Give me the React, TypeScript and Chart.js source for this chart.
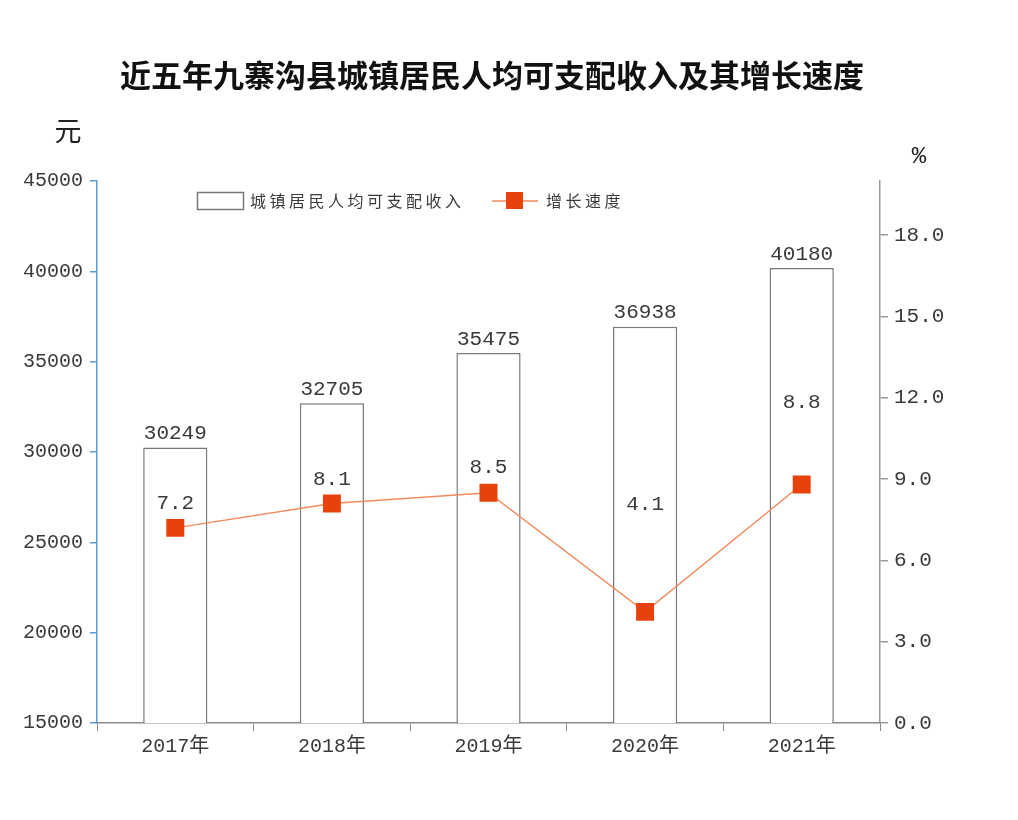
import React, { useEffect, useRef } from "react";
import { Chart, registerables } from "chart.js";

Chart.register(...registerables);

const categories = ["2017年", "2018年", "2019年", "2020年", "2021年"];
const incomeValues = [30249, 32705, 35475, 36938, 40180];
const growthValues = [7.2, 8.1, 8.5, 4.1, 8.8];
const growthLabels = ["7.2", "8.1", "8.5", "4.1", "8.8"];
const titleText = "近五年九寨沟县城镇居民人均可支配收入及其增长速度";
const leftUnit = "元";
const rightUnit = "%";
const barLegend = "城镇居民人均可支配收入";
const lineLegend = "增长速度";

const NUM_FONT = "'Liberation Mono', 'DejaVu Sans Mono', monospace";
const CJK_FONT = "'Noto Sans CJK SC', 'Noto Sans', sans-serif";
const MIX_FONT = "'Liberation Mono', 'Noto Sans CJK SC', monospace";
const BAR_BORDER = "#787878";
const LINE_COLOR = "#f38b5c";
const MARK_COLOR = "#e8420c";
const TEXT_COLOR = "#3a3a3a";

const textPlugin = {
  id: "textPlugin",
  afterDatasetsDraw(chart: any, _args: any, opts: any) {
    const ctx = chart.ctx;
    ctx.save();
    const barMeta = chart.getDatasetMeta(0);
    ctx.font = `21px ${NUM_FONT}`;
    ctx.fillStyle = TEXT_COLOR;
    ctx.textAlign = "center";
    ctx.textBaseline = "middle";
    barMeta.data.forEach((el: any, i: number) => {
      ctx.fillText(String(incomeValues[i]), el.x, el.y - 14);
    });
    const lineMeta = chart.getDatasetMeta(1);
    const lifts: number[] = opts.lifts || [];
    lineMeta.data.forEach((el: any, i: number) => {
      ctx.fillText(growthLabels[i], el.x, el.y - (lifts[i] ?? 25));
    });
    ctx.restore();
  },
  afterDraw(chart: any) {
    const ctx = chart.ctx;
    ctx.save();
    ctx.textBaseline = "middle";
    ctx.textAlign = "center";
    ctx.fillStyle = "#111";
    ctx.font = `bold 31px ${CJK_FONT}`;
    ctx.fillText(titleText, 492, 75);
    ctx.font = `27px ${CJK_FONT}`;
    ctx.fillStyle = "#222";
    ctx.fillText(leftUnit, 68, 131);
    ctx.font = `24px ${NUM_FONT}`;
    ctx.fillText(rightUnit, 919, 157);
    ctx.strokeStyle = BAR_BORDER;
    ctx.lineWidth = 1.5;
    ctx.strokeRect(197.5, 192.5, 46, 17);
    ctx.fillStyle = TEXT_COLOR;
    ctx.textAlign = "left";
    ctx.font = `16px ${CJK_FONT}`;
    (ctx as any).letterSpacing = "3.5px";
    ctx.fillText(barLegend, 250, 201);
    ctx.fillText(lineLegend, 546, 201);
    (ctx as any).letterSpacing = "0px";
    ctx.strokeStyle = LINE_COLOR;
    ctx.beginPath();
    ctx.moveTo(492, 201);
    ctx.lineTo(538, 201);
    ctx.stroke();
    ctx.fillStyle = MARK_COLOR;
    ctx.fillRect(506, 192, 17, 17);
    ctx.restore();
  },
};

export default function App() {
  const ref = useRef<HTMLCanvasElement | null>(null);
  useEffect(() => {
    if (!ref.current) return;
    const chart = new Chart(ref.current, {
      type: "bar",
      data: {
        labels: categories,
        datasets: [
          {
            type: "bar",
            label: barLegend,
            data: incomeValues,
            yAxisID: "y",
            backgroundColor: "#ffffff",
            borderColor: BAR_BORDER,
            borderWidth: 1.5,
            barPercentage: 0.41,
            categoryPercentage: 1,
            order: 1,
          },
          {
            type: "line",
            label: lineLegend,
            data: growthValues,
            yAxisID: "y1",
            borderColor: LINE_COLOR,
            borderWidth: 1.5,
            backgroundColor: MARK_COLOR,
            pointBackgroundColor: MARK_COLOR,
            pointBorderWidth: 0,
            pointStyle: "rect",
            pointRadius: 12.7,
            tension: 0,
            order: 0,
          },
        ],
      },
      options: {
        animation: false,
        responsive: true,
        maintainAspectRatio: false,
        devicePixelRatio: 1,
        layout: { padding: { top: 181, left: 0, right: 0, bottom: 0 } },
        plugins: {
          legend: { display: false },
          tooltip: { enabled: false },
          title: { display: false },
          textPlugin: { lifts: [24, 24, 25, 107, 82] },
        } as any,
        scales: {
          x: {
            type: "category",
            offset: true,
            grid: {
              display: true,
              offset: true,
              drawOnChartArea: false,
              drawTicks: true,
              tickLength: 8,
              color: "#8a8a8a",
            },
            border: { display: true, color: "#8a8a8a", width: 1.5 },
            ticks: {
              font: { family: MIX_FONT, size: 20 },
              color: TEXT_COLOR,
              padding: 4,
            },
            afterFit: (s: any) => {
              s.height = 97;
            },
          },
          y: {
            type: "linear",
            position: "left",
            min: 15000,
            max: 45000,
            ticks: {
              stepSize: 5000,
              font: { family: NUM_FONT, size: 20 },
              color: TEXT_COLOR,
              padding: 7,
              callback: (v: any) => String(v),
            },
            grid: {
              drawOnChartArea: false,
              tickLength: 7,
              color: "#5b9bd5",
              lineWidth: 1.5,
            },
            border: { display: true, color: "#5b9bd5", width: 1.5 },
            afterFit: (s: any) => {
              s.width = 97;
            },
          },
          y1: {
            type: "linear",
            position: "right",
            min: 0,
            max: 20,
            ticks: {
              stepSize: 3,
              font: { family: NUM_FONT, size: 21 },
              color: TEXT_COLOR,
              padding: 6,
              callback: (v: any) => Number(v).toFixed(1),
            },
            afterBuildTicks: (s: any) => {
              s.ticks = s.ticks.filter((t: any) => t.value <= 18);
            },
            grid: {
              drawOnChartArea: false,
              tickLength: 8,
              color: "#999",
              lineWidth: 1.5,
            },
            border: { display: true, color: "#999", width: 1.5 },
            afterFit: (s: any) => {
              s.width = 138;
            },
          },
        },
      } as any,
      plugins: [textPlugin],
    });
    return () => chart.destroy();
  }, []);
  return (
    <div style={{ position: "absolute", left: 0, top: 0, width: 1018, height: 820, background: "#fff" }}>
      <canvas ref={ref} />
    </div>
  );
}
